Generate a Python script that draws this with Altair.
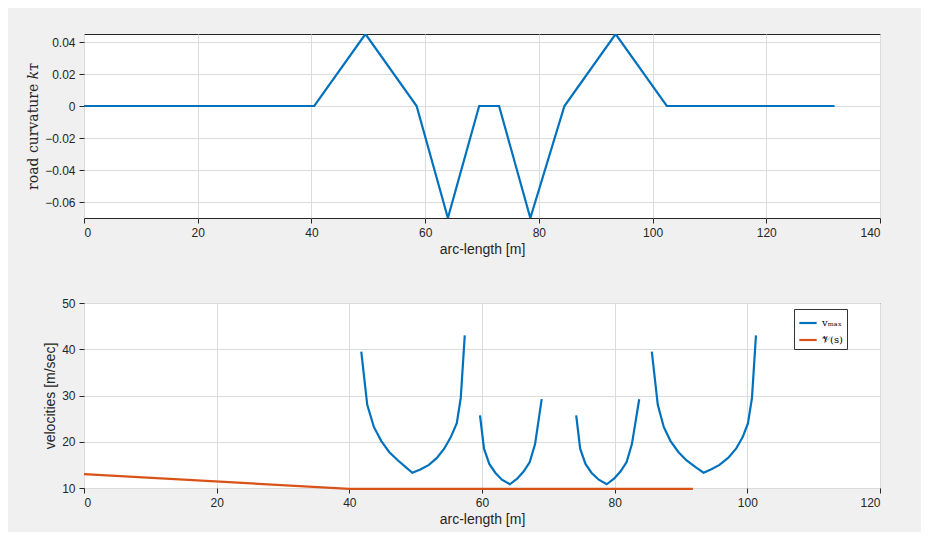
import pandas as pd
import altair as alt

# top panel: road curvature
s_curv = [0, 40.5, 49.5, 58.5, 64.0, 69.5, 73.0, 78.5, 84.5, 93.5, 102.5, 132.0]
k_curv = [0, 0, 0.045, 0, -0.07, 0, 0, -0.07, 0, 0.045, 0, 0]

# bottom panel: v_max segments
seg1_s = [41.8, 42.7, 43.7, 44.8, 46.0, 47.3, 48.5, 49.5, 50.7, 52.0, 53.2, 54.3, 55.3, 56.2, 56.8, 57.4]
seg1_v = [39.5, 28.0, 23.2, 20.2, 17.8, 16.0, 14.5, 13.3, 14.0, 15.0, 16.5, 18.5, 21.0, 24.0, 29.5, 43.0]
seg2_s = [59.7, 60.3, 61.1, 62.0, 63.0, 64.2, 65.3, 66.3, 67.2, 68.0, 69.0]
seg2_v = [25.7, 18.5, 15.2, 13.3, 11.8, 10.8, 12.0, 13.6, 15.6, 19.5, 29.2]
seg3_s = [74.2, 74.8, 75.6, 76.5, 77.6, 78.8, 79.9, 80.9, 81.8, 82.6, 83.7]
seg3_v = [25.7, 18.5, 15.2, 13.3, 11.8, 10.8, 12.0, 13.6, 15.6, 19.5, 29.2]
seg4_s = [85.6, 86.5, 87.4, 88.4, 89.6, 90.8, 92.2, 93.4, 94.5, 95.8, 97.1, 98.3, 99.3, 100.1, 100.7, 101.3]
seg4_v = [39.5, 28.0, 23.2, 20.2, 17.8, 16.0, 14.5, 13.3, 14.0, 15.0, 16.5, 18.5, 21.0, 24.0, 29.5, 43.0]

# V(s) profile
vs_s = [0, 40.0, 91.8]
vs_v = [13.0, 9.8, 9.8]

VMAX = "vₘₐₓ"
VS = "𝒱(s)"

rows = []
for i, (ss, vv) in enumerate([(seg1_s, seg1_v), (seg2_s, seg2_v), (seg3_s, seg3_v), (seg4_s, seg4_v)]):
    for a, b in zip(ss, vv):
        rows.append({"s": a, "v": b, "series": VMAX, "seg": i})
for a, b in zip(vs_s, vs_v):
    rows.append({"s": a, "v": b, "series": VS, "seg": 10})
df_v = pd.DataFrame(rows)
df_k = pd.DataFrame({"s": s_curv, "k": k_curv})

w = 796
h_top, h_bot, gap = 184, 185, 85

top = alt.Chart(df_k, width=w, height=h_top).mark_line(color="#0072BD", strokeWidth=2.2, clip=True).encode(
    x=alt.X("s:Q", title="arc-length [m]", scale=alt.Scale(domain=[0, 140], nice=False),
            axis=alt.Axis(values=[0, 20, 40, 60, 80, 100, 120, 140])),
    y=alt.Y("k:Q", title="road curvature 𝑘ᴛ", scale=alt.Scale(domain=[-0.07, 0.045], nice=False, zero=False),
            axis=alt.Axis(values=[-0.06, -0.04, -0.02, 0, 0.02, 0.04],
                          titleFont="DejaVu Serif", titleFontWeight="normal",
                          labelExpr="datum.value == 0 ? '0' : format(datum.value, '.2f')")),
)

bottom = alt.Chart(df_v, width=w, height=h_bot).mark_line(strokeWidth=2.2).encode(
    x=alt.X("s:Q", title="arc-length [m]", scale=alt.Scale(domain=[0, 120], nice=False),
            axis=alt.Axis(values=[0, 20, 40, 60, 80, 100, 120])),
    y=alt.Y("v:Q", title="velocities [m/sec]", scale=alt.Scale(domain=[10, 50], nice=False, zero=False),
            axis=alt.Axis(values=[10, 20, 30, 40, 50])),
    color=alt.Color("series:N", scale=alt.Scale(domain=[VMAX, VS], range=["#0072BD", "#D95319"]),
                    legend=alt.Legend(title=None, orient="none", legendX=w - 86, legendY=h_top + gap + 6,
                                      fillColor="white", strokeColor="#333", padding=4,
                                      symbolType="stroke", symbolStrokeWidth=2.2, symbolSize=300,
                                      labelFontSize=10, labelFont="DejaVu Serif")),
    detail="seg:N",
    order="s:Q",
)

chart = alt.vconcat(top, bottom, spacing=gap, bounds="flush").configure(
    background="#f0f0f0",
    font="Liberation Sans",
).configure_view(
    fill="white", stroke="#262626", strokeWidth=1,
).configure_axis(
    grid=True, gridColor="#dcdcdc", domain=False, tickColor="#262626", tickSize=5,
    labelFontSize=12, titleFontSize=14, titleFontWeight="normal", labelColor="#262626",
    titleColor="#262626", labelPadding=4,
).properties(padding={"left": 18, "top": 25, "right": 40, "bottom": 5})

chart.save("out.html", embed_options={"renderer": "svg", "actions": False})
